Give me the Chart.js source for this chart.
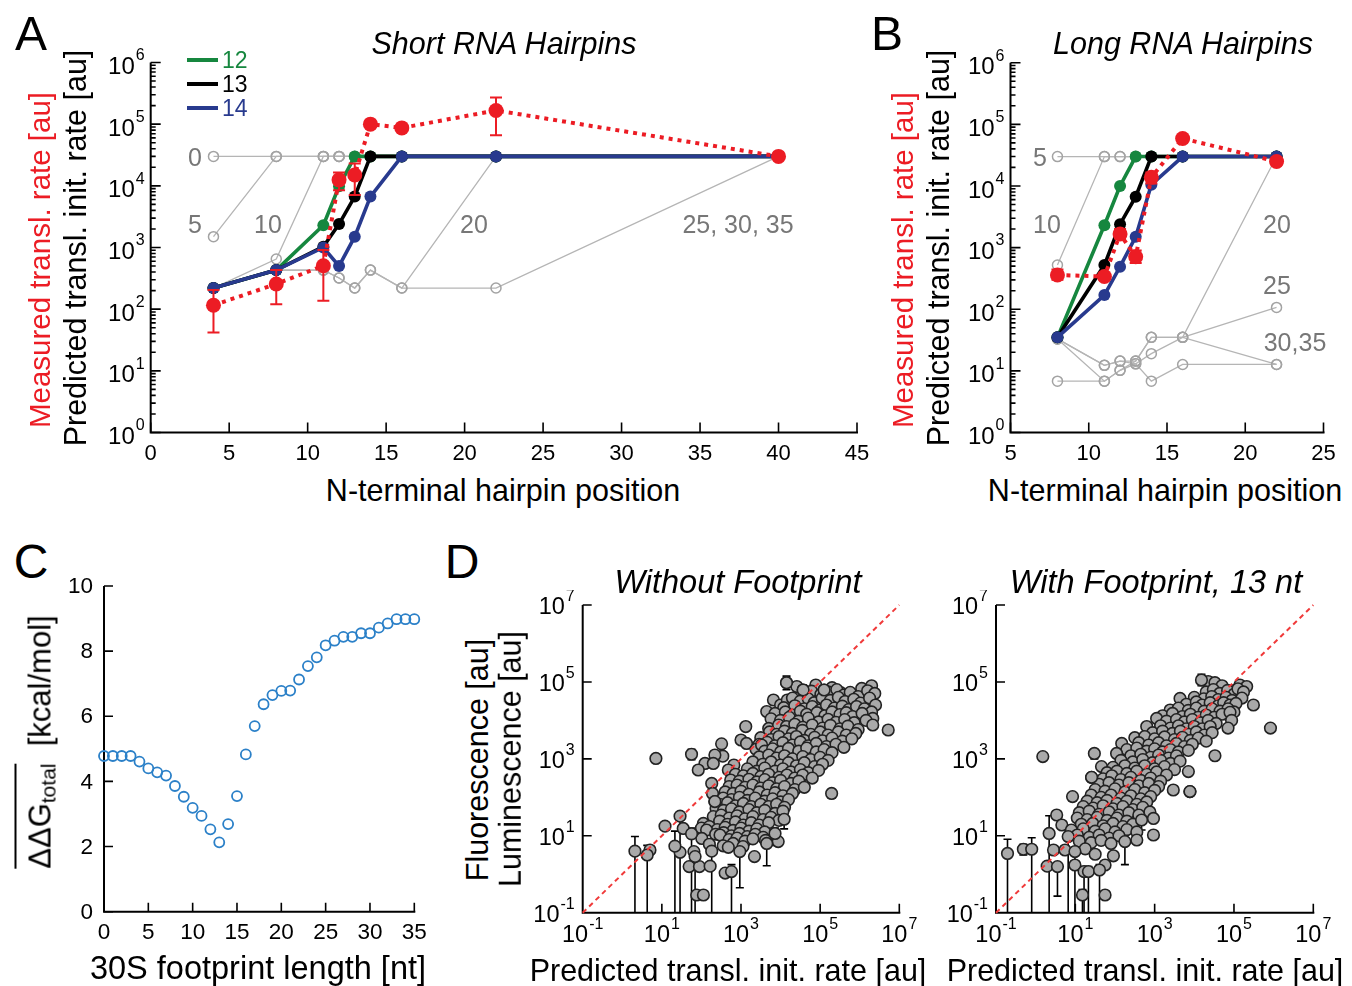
<!DOCTYPE html>
<html><head><meta charset="utf-8">
<script src="https://cdn.jsdelivr.net/npm/chart.js@4.4.1/dist/chart.umd.min.js"></script>
<style>
html,body{margin:0;padding:0;background:#fff;}
#wrap{position:relative;width:1352px;height:986px;overflow:hidden;font-family:"Liberation Sans",Arial,sans-serif;color:#000;}
canvas{position:absolute;}
.t{position:absolute;white-space:nowrap;line-height:1;}
.c{transform:translate(-50%,-50%);}
.r{transform:translate(-50%,-50%) rotate(-90deg);}
.g{color:#777;font-size:25px;}
.ttl{font-style:italic;font-size:30.5px;}
.ttl2{font-style:italic;font-size:32.5px;}
.ax{font-size:30.5px;}
.let{font-size:48px;}
.seg{position:absolute;height:4px;width:31px;left:187px;}
sub{font-size:21px;vertical-align:-0.25em;line-height:0;}
</style></head><body><div id="wrap">
<canvas id="cA" width="870" height="470" style="left:0;top:0"></canvas>
<canvas id="cB" width="482" height="470" style="left:870px;top:0"></canvas>
<canvas id="cC" width="380" height="390" style="left:60px;top:560px"></canvas>
<canvas id="cD1" width="400" height="365" style="left:520px;top:590px"></canvas>
<canvas id="cD2" width="417" height="365" style="left:935px;top:590px"></canvas>

<div class="t c let" style="left:31px;top:34px">A</div>
<div class="t c let" style="left:887px;top:34px">B</div>
<div class="t c let" style="left:31px;top:562px">C</div>
<div class="t c let" style="left:462px;top:562px">D</div>

<div class="t c ttl" style="left:504px;top:43px">Short RNA Hairpins</div>
<div class="t c ttl" style="left:1183px;top:43px">Long RNA Hairpins</div>
<div class="t c ttl2" style="left:738px;top:582px">Without Footprint</div>
<div class="t c ttl2" style="left:1156px;top:582px">With Footprint, 13 nt</div>

<div class="t c ax" style="left:503px;top:490px">N-terminal hairpin position</div>
<div class="t c ax" style="left:1165px;top:490px">N-terminal hairpin position</div>
<div class="t c ax" style="left:258px;top:968px;font-size:32.5px">30S footprint length [nt]</div>
<div class="t c ax" style="left:728px;top:970px">Predicted transl. init. rate [au]</div>
<div class="t c ax" style="left:1145px;top:970px">Predicted transl. init. rate [au]</div>

<div class="t r ax" style="left:40px;top:260px;color:#ec1c24;font-size:29.5px">Measured transl. rate [au]</div>
<div class="t r ax" style="left:75px;top:248px">Predicted transl. init. rate [au]</div>
<div class="t r ax" style="left:903px;top:260px;color:#ec1c24;font-size:29.5px">Measured transl. rate [au]</div>
<div class="t r ax" style="left:938px;top:248px">Predicted transl. init. rate [au]</div>
<div class="t r ax" style="left:477px;top:760px">Fluorescence [au]</div>
<div class="t r ax" style="left:510px;top:759px">Luminescence [au]</div>
<div class="t r ax" style="left:40px;top:742px;font-size:31px"><span style="border-top:2px solid #000;padding-top:6px">ΔΔG<sub>total</sub></span>&nbsp;&nbsp;[kcal/mol]</div>

<div class="seg" style="top:58px;background:#16873f"></div>
<div class="seg" style="top:82px;background:#000"></div>
<div class="seg" style="top:106px;background:#283a8e"></div>
<div class="t" style="left:222px;top:49px;font-size:23px;color:#16873f">12</div>
<div class="t" style="left:222px;top:73px;font-size:23px;color:#000">13</div>
<div class="t" style="left:222px;top:97px;font-size:23px;color:#283a8e">14</div>

<div class="t c g" style="left:195px;top:157px">0</div>
<div class="t c g" style="left:195px;top:224px">5</div>
<div class="t c g" style="left:268px;top:224px">10</div>
<div class="t c g" style="left:474px;top:224px">20</div>
<div class="t c g" style="left:738px;top:224px">25, 30, 35</div>
<div class="t c g" style="left:1040px;top:157px">5</div>
<div class="t c g" style="left:1047px;top:224px">10</div>
<div class="t c g" style="left:1277px;top:224px">20</div>
<div class="t c g" style="left:1277px;top:285px">25</div>
<div class="t c g" style="left:1295px;top:342px">30,35</div>
</div>
<script>
// ---------------- Panel A data (short hairpins) ----------------
const xA = [4, 8, 11, 12, 13, 14, 16, 22, 40];
const predA12 = [220, 430, 2300, 9800, 30000, 30000, 30000, 30000, 30000];
const predA13 = [220, 430, 1030, 2400, 6700, 30000, 30000, 30000, 30000];
const predA14 = [220, 430, 1000, 500, 1500, 6700, 30000, 30000, 30000];
const measA   = [116, 256, 505, 12500, 15000, 100000, 87000, 167000, 30000];
const measAlo = [42, 120, 137, 8500, 7100, null, null, 66000, null];
const measAhi = [204, 430, 910, 16500, 23000, null, null, 270000, null];
const grayA0  = [30000, 30000, 30000, 30000, 30000, 30000, 30000, 30000, 30000];
const grayA5  = [1500, 30000, 30000, 30000, 30000, 30000, 30000, 30000, 30000];
const grayA10 = [220, 650, 30000, 30000, 30000, 30000, 30000, 30000, 30000];
const grayA20 = [220, 430, 430, 320, 220, 430, 220, 30000, 30000];
const grayA25 = [220, 430, 430, 320, 220, 430, 220, 220, 30000];

// ---------------- Panel B data (long hairpins) ----------------
const xB = [8, 11, 12, 13, 14, 16, 22];
const predB12 = [35, 2300, 10000, 30000, 30000, 30000, 30000];
const predB13 = [35, 520, 2400, 6700, 30000, 30000, 30000];
const predB14 = [35, 170, 490, 1500, 10500, 30000, 30000];
const measB   = [360, 339, 1660, 710, 13800, 59000, 25000];
const measBlo = [300, 300, 1400, 560, 11000, 53000, 22000];
const measBhi = [440, 380, 2000, 900, 16500, 65000, 28000];
const grayB5  = [30000, 30000, 30000, 30000, 30000, 30000, 30000];
const grayB10 = [520, 30000, 30000, 30000, 30000, 30000, 30000];
const grayB20 = [33, 12.3, 14.4, 14.4, 35, 35, 30000];
const grayB25 = [33, 12.3, 14.4, 13, 19, 35, 107];
const grayB30 = [33, 6.8, 10.2, 13, 6.8, 12.7, 12.7];
const grayB35 = [6.8, 6.8, 10.2, 14.4, 35, 35, 12.7];

// ---------------- Panel C data ----------------
const cLen = [0,1,2,3,4,5,6,7,8,9,10,11,12,13,14,15,16,17,18,19,20,21,22,23,24,25,26,27,28,29,30,31,32,33,34,35];
const cDG  = [4.78,4.78,4.78,4.78,4.61,4.40,4.28,4.18,3.86,3.53,3.19,2.94,2.53,2.13,2.69,3.55,4.83,5.70,6.37,6.65,6.78,6.79,7.13,7.54,7.81,8.18,8.32,8.44,8.44,8.55,8.55,8.72,8.85,8.98,8.98,8.98];

// ---------------- Panel D data: [log10 predicted, log10 measured] ----------------
const dLeftPts = [
[4.15,4.98],[4.41,4.88],[4.57,4.79],[4.89,4.92],[5.10,4.79],[5.30,4.85],[5.52,4.72],[6.05,4.83],[6.30,4.90],
[4.62,4.70],[4.78,4.76],[5.02,4.68],[5.20,4.74],[5.42,4.80],[5.60,4.66],[5.76,4.73],[5.96,4.62],[6.20,4.77],[6.38,4.70],
[3.82,4.53],[4.00,4.40],[4.17,4.53],[4.30,4.58],[4.50,4.50],[4.70,4.56],[4.85,4.46],[5.05,4.58],[5.26,4.52],[5.46,4.60],[5.63,4.49],[5.85,4.55],[6.02,4.45],[6.25,4.58],[6.40,4.40],
[4.08,4.33],[4.36,4.38],[4.60,4.30],[4.80,4.36],[5.00,4.27],[5.16,4.40],[5.36,4.32],[5.56,4.37],[5.72,4.28],[5.92,4.36],[6.12,4.30],[6.30,4.22],
[3.65,4.23],[3.86,4.18],[4.12,4.22],[4.30,4.14],[4.50,4.24],[4.66,4.16],[4.92,4.20],[5.12,4.12],[5.30,4.22],[5.50,4.15],[5.66,4.20],[5.82,4.10],[6.06,4.18],[6.33,4.05],
[3.76,4.04],[4.00,4.00],[4.22,4.08],[4.45,3.98],[4.70,4.06],[4.96,3.96],[5.20,4.03],[5.40,3.95],[5.62,4.02],[5.86,3.94],[6.16,4.00],
[3.70,3.79],[3.95,3.88],[4.15,3.84],[4.36,3.90],[4.56,3.82],[4.80,3.88],[5.06,3.80],[5.26,3.87],[5.50,3.78],[5.70,3.85],[5.96,3.76],[6.33,3.88],
[3.12,3.84],[3.72,3.70],[3.90,3.64],[4.10,3.72],[4.30,3.66],[4.55,3.74],[4.76,3.64],[5.00,3.70],[5.20,3.62],[5.46,3.70],[5.66,3.62],[5.90,3.66],[6.72,3.75],
[3.50,3.55],[3.76,3.50],[3.96,3.58],[4.20,3.52],[4.40,3.58],[4.60,3.48],[4.86,3.56],[5.06,3.47],[5.30,3.54],[5.56,3.46],[5.80,3.52],
[3.00,3.49],[3.14,3.40],[3.46,3.38],[3.66,3.43],[3.86,3.34],[4.06,3.42],[4.30,3.36],[4.50,3.44],[4.70,3.34],[4.90,3.40],[5.16,3.32],[5.40,3.38],[5.60,3.30],
[3.38,3.25],[3.52,3.36],[3.60,3.20],[3.80,3.26],[4.00,3.18],[4.20,3.27],[4.46,3.20],[4.66,3.28],[4.90,3.18],[5.10,3.24],[5.30,3.16],
[2.54,3.07],[2.51,3.39],[2.34,3.10],[3.46,3.05],[3.70,3.10],[3.90,3.02],[4.10,3.08],[4.30,3.00],[4.56,3.06],[4.76,2.98],[5.00,3.04],[5.20,2.96],
[2.09,2.88],[2.30,2.88],[2.82,2.84],[3.30,2.92],[3.55,2.86],[3.76,2.92],[4.00,2.84],[4.20,2.90],[4.40,2.82],[4.60,2.90],[4.86,2.80],[5.06,2.86],
[1.92,2.71],[2.68,2.71],[3.16,2.74],[3.40,2.68],[3.60,2.76],[3.86,2.68],[4.06,2.74],[4.26,2.66],[4.50,2.72],[4.70,2.64],[4.96,2.70],
[2.86,2.60],[3.06,2.56],[3.30,2.62],[3.50,2.54],[3.70,2.60],[3.96,2.52],[4.16,2.58],[4.36,2.50],[4.56,2.58],[4.80,2.50],
[2.74,2.45],[2.96,2.42],[3.20,2.47],[3.40,2.40],[3.60,2.46],[3.80,2.38],[4.00,2.44],[4.26,2.36],[4.46,2.42],
[2.26,2.36],[2.70,2.28],[2.90,2.32],[3.10,2.26],[3.30,2.32],[3.50,2.24],[3.70,2.30],[3.90,2.22],[4.10,2.28],[4.36,2.20],[4.60,2.26],
[2.28,2.10],[2.60,2.14],[2.80,2.10],[3.00,2.16],[3.20,2.08],[3.46,2.14],[3.66,2.06],[3.86,2.12],[4.06,2.04],[4.30,2.10],
[2.34,1.89],[2.55,1.98],[2.76,1.94],[2.96,2.00],[3.16,1.92],[3.36,1.98],[3.60,1.90],[3.80,1.96],[4.00,1.88],[4.20,1.94],
[2.46,1.82],[2.66,1.86],[2.86,1.78],[3.06,1.84],[3.26,1.76],[3.50,1.82],[3.70,1.76],[3.90,1.82],[4.10,1.74],
[2.37,1.71],[2.56,1.66],[2.76,1.70],[2.96,1.62],[3.20,1.68],[3.40,1.60],[3.60,1.66],[3.86,1.58],[4.06,1.64],
[2.30,1.50],[2.50,1.54],[2.70,1.46],[2.90,1.52],[3.10,1.44],[3.30,1.50],[3.56,1.42],[3.76,1.48],[3.96,1.40],
[2.05,1.32],[2.46,1.38],[2.66,1.30],[2.86,1.36],[3.06,1.28],[3.26,1.34],[3.46,1.28],[3.70,1.34],
[1.08,1.25],[1.54,1.19],[2.00,1.20],[2.20,1.24],[2.40,1.16],[2.60,1.22],[2.80,1.14],[3.00,1.20],[3.20,1.12],[3.40,1.18],[3.60,1.10],
[2.13,1.15],[2.36,1.04],[2.56,1.08],[2.76,1.00],[2.96,1.06],[3.16,0.98],[3.36,1.04],[3.56,0.96],
[2.01,0.93],[2.47,1.02],[2.70,0.90],[2.90,0.94],[3.10,0.86],[3.30,0.92],[3.62,0.88],[3.94,0.85],
[2.20,0.78],[2.55,0.74],[2.80,0.80],[3.05,0.72],
[0.70,0.63],[1.81,0.59],[2.68,0.70],[1.46,0.57],[3.34,0.46],
[1.69,0.20],[1.95,0.20],[2.22,0.21],[2.60,0.03],[1.88,-0.54],[2.05,-0.54],
[0.85,3.01]
];
// [log pred, log meas, log low, log high]
const dLeftErr = [
[0.32,0.60,-1.2,0.98],[0.63,0.50,-1.2,0.75],[1.33,0.73,-1.2,1.12],[1.46,1.51,-1.2,1.62],[1.75,1.05,-1.2,1.20],
[1.84,0.46,-1.2,0.65],[2.26,0.60,-1.2,0.75],[2.76,0.07,-1.2,0.25],[2.97,0.59,-0.35,0.75],[3.65,0.80,0.22,1.00],
[3.86,1.06,0.75,1.20],[4.09,1.43,1.18,1.60],[1.75,3.12,2.98,3.25],[4.15,4.98,4.80,5.15],[4.57,4.79,4.50,4.92],
[5.29,2.10,1.98,2.20],[2.34,1.89,1.75,2.0],[5.10,4.79,4.62,4.90]
];
const dRightPts = [
[4.35,5.01],[4.52,4.98],[4.70,4.90],[5.03,4.79],[5.15,4.92],[5.32,4.88],
[4.30,4.74],[4.48,4.80],[4.64,4.70],[4.84,4.78],[5.00,4.68],[5.10,4.82],[5.24,4.74],
[3.64,4.57],[4.00,4.60],[4.24,4.56],[4.44,4.62],[4.60,4.54],[4.80,4.60],[4.95,4.52],[5.20,4.58],
[3.80,4.42],[4.05,4.48],[4.20,4.40],[4.40,4.46],[4.60,4.38],[4.74,4.46],[4.90,4.40],[5.05,4.44],[5.49,4.40],
[3.39,4.27],[3.60,4.32],[3.85,4.26],[4.05,4.32],[4.25,4.24],[4.45,4.30],[4.65,4.24],[4.85,4.30],[5.00,4.22],
[3.20,4.12],[3.45,4.18],[3.70,4.10],[3.90,4.16],[4.10,4.08],[4.30,4.14],[4.50,4.08],[4.70,4.16],[4.90,4.21],
[3.05,4.05],[3.30,3.98],[3.55,4.02],[3.75,3.96],[3.95,4.02],[4.15,3.94],[4.35,4.00],[4.55,3.92],[4.94,4.00],
[2.80,3.84],[3.15,3.86],[3.40,3.80],[3.60,3.86],[3.80,3.78],[4.00,3.84],[4.20,3.78],[4.40,3.84],[4.85,3.80],[5.92,3.80],
[2.95,3.68],[3.20,3.72],[3.45,3.66],[3.65,3.72],[3.85,3.64],[4.05,3.70],[4.25,3.62],[4.45,3.68],
[2.50,3.55],[2.75,3.58],[3.00,3.52],[3.25,3.57],[3.50,3.50],[3.70,3.56],[3.90,3.48],[4.10,3.54],[4.30,3.46],
[2.17,3.40],[2.60,3.42],[2.85,3.36],[3.10,3.42],[3.30,3.34],[3.55,3.40],[3.75,3.32],[3.95,3.38],
[2.30,3.24],[2.55,3.28],[2.80,3.20],[3.00,3.26],[3.20,3.18],[3.40,3.24],[3.60,3.18],[3.85,3.22],
[2.04,3.14],[2.40,3.08],[2.65,3.12],[2.90,3.04],[3.10,3.10],[3.35,3.02],[3.55,3.08],[4.52,3.08],
[2.15,2.96],[2.45,2.92],[2.70,2.98],[2.95,2.90],[3.15,2.96],[3.40,2.88],[3.64,2.94],
[1.66,2.80],[1.95,2.78],[2.25,2.82],[2.50,2.76],[2.75,2.82],[3.00,2.74],[3.25,2.80],[3.50,2.72],
[1.80,2.64],[2.05,2.68],[2.30,2.62],[2.55,2.68],[2.80,2.60],[3.05,2.66],[3.30,2.58],[3.85,2.67],
[1.41,2.52],[1.70,2.48],[1.92,2.56],[2.15,2.46],[2.40,2.52],[2.65,2.44],[2.90,2.50],[3.15,2.42],
[1.60,2.34],[1.85,2.38],[2.10,2.32],[2.35,2.38],[2.60,2.30],[2.85,2.36],[3.10,2.28],
[1.50,2.20],[1.75,2.16],[2.00,2.22],[2.25,2.14],[2.50,2.20],[2.75,2.12],[3.00,2.18],[3.47,2.19],[3.89,2.15],
[1.40,2.06],[1.65,2.00],[1.90,2.06],[2.15,1.98],[2.40,2.04],[2.65,1.96],[2.90,2.02],
[1.30,1.90],[1.55,1.86],[1.80,1.92],[2.05,1.84],[2.30,1.90],[2.55,1.82],[2.80,1.88],
[1.20,1.76],[1.45,1.72],[1.70,1.78],[1.95,1.70],[2.20,1.76],[2.45,1.68],[2.70,1.74],
[1.10,1.60],[1.35,1.64],[1.60,1.56],[1.85,1.62],[2.10,1.54],[2.35,1.60],[2.60,1.54],[2.88,1.62],
[0.53,1.54],[1.05,1.46],[1.30,1.42],[1.55,1.48],[1.80,1.40],[2.05,1.46],[2.30,1.38],[2.97,1.45],
[0.66,1.28],[1.15,1.30],[1.44,1.32],[1.70,1.26],[1.95,1.32],[2.20,1.24],[2.45,1.30],
[0.90,1.15],[1.20,1.18],[1.50,1.12],[1.75,1.18],[2.00,1.10],[2.30,1.16],[2.55,1.10],
[1.05,1.02],[1.35,0.96],[1.60,1.02],[1.85,0.94],[2.10,1.00],[2.97,1.02],
[1.10,0.86],[1.40,0.82],[1.65,0.88],[1.90,0.80],[2.55,0.89],
[0.45,0.63],[0.74,0.63],[1.25,0.66],[1.96,0.48],[1.50,0.52],
[0.29,0.21],[0.99,0.24],[1.75,0.24],[1.75,-0.54],
[0.18,3.06]
];
const dRightErr = [
[-0.71,0.54,-1.2,0.91],[-0.31,0.65,0.50,0.78],[-0.10,0.65,-1.2,0.95],[0.34,1.06,-1.2,1.52],[0.55,0.20,-0.57,0.30],
[1.22,0.07,-1.2,0.20],[1.33,0.07,-1.2,0.20],[1.61,0.11,-1.2,0.25],[2.25,0.85,0.25,1.00],[2.67,1.41,1.15,1.55],
[1.48,3.14,3.00,3.25],[4.18,5.05,4.90,5.20],[0.93,2.02,1.90,2.10],[1.18,-0.54,-1.2,-0.40],[0.99,0.59,-1.2,0.70],
[0.82,0.98,-1.2,1.10],[1.41,2.52,2.40,2.60],[3.89,2.15,2.05,2.25]
];

// ---------------- tick definitions ----------------
const ticksA = [0,5,10,15,20,25,30,35,40,45];
const ticksB = [5,10,15,20,25];
const ticksCx = [0,5,10,15,20,25,30,35];
const ticksCy = [0,2,4,6,8,10];
const decadesAB = [0,1,2,3,4,5,6];
const decadesD = [-1,1,3,5,7];

// ---------------- helpers ----------------
const FONT = '"Liberation Sans", Arial, sans-serif';
const RED = '#ec1c24', GREEN = '#16873f', BLUE = '#283a8e';
const pts = (xs, ys) => xs.map((x, i) => ({x, y: ys[i]}));
const errPts = (xs, ys, lo, hi) => xs.map((x, i) => ({x, y: ys[i], lo: lo[i], hi: hi[i]}));
const minorLog = (d0, d1) => { const r = []; for (let d = d0; d < d1; d++) for (let k = 2; k <= 9; k++) r.push(k * Math.pow(10, d)); return r; };

function powLabel(ctx, x, y, exp, align, bs, es) {
  ctx.font = bs + 'px ' + FONT;
  const wb = ctx.measureText('10').width;
  ctx.font = es + 'px ' + FONT;
  const we = ctx.measureText(exp).width;
  const tot = wb + we + 1;
  const sx = align === 'right' ? x - tot : x - tot / 2;
  ctx.textAlign = 'left'; ctx.textBaseline = 'middle';
  ctx.font = bs + 'px ' + FONT;
  ctx.fillText('10', sx, y);
  ctx.font = es + 'px ' + FONT;
  ctx.fillText(exp, sx + wb + 1, y - bs * 0.48);
}

function axesPlugin(o) {
  return {
    id: 'axesDraw',
    beforeDatasetsDraw(chart) {
      const {ctx, chartArea: a, scales} = chart;
      const xs = scales.x, ys = scales.y;
      ctx.save();
      ctx.strokeStyle = '#000'; ctx.lineWidth = 2;
      ctx.beginPath();
      ctx.moveTo(a.left, a.top); ctx.lineTo(a.left, a.bottom); ctx.lineTo(a.right + 1, a.bottom);
      ctx.stroke();
      ctx.lineWidth = 1.6;
      ctx.beginPath();
      (o.xMajor || []).forEach(v => { const p = xs.getPixelForValue(v); ctx.moveTo(p, a.bottom); ctx.lineTo(p, a.bottom - o.maj); });
      (o.xMinor || []).forEach(v => { const p = xs.getPixelForValue(v); ctx.moveTo(p, a.bottom); ctx.lineTo(p, a.bottom - o.min); });
      (o.yMajor || []).forEach(v => { const p = ys.getPixelForValue(v); ctx.moveTo(a.left, p); ctx.lineTo(a.left + o.maj, p); });
      (o.yMinor || []).forEach(v => { const p = ys.getPixelForValue(v); ctx.moveTo(a.left, p); ctx.lineTo(a.left + o.min, p); });
      ctx.stroke();
      ctx.fillStyle = '#000';
      (o.xLabels || []).forEach(l => {
        const p = xs.getPixelForValue(l.v);
        if (l.e !== undefined) powLabel(ctx, p, a.bottom + o.xOff, l.e, 'center', o.pbs, o.es);
        else { ctx.font = o.bs + 'px ' + FONT; ctx.textAlign = 'center'; ctx.textBaseline = 'middle'; ctx.fillText(l.t, p, a.bottom + o.xOff); }
      });
      (o.yLabels || []).forEach(l => {
        const p = ys.getPixelForValue(l.v) + o.yDy;
        if (l.e !== undefined) powLabel(ctx, a.left - o.yOff, p, l.e, 'right', o.pbs, o.es);
        else { ctx.font = o.bs + 'px ' + FONT; ctx.textAlign = 'right'; ctx.textBaseline = 'middle'; ctx.fillText(l.t, a.left - o.yOff, p); }
      });
      ctx.restore();
    }
  };
}

const errPlugin = {
  id: 'errbars',
  beforeDatasetDraw(chart, args) {
    const ds = chart.data.datasets[args.index];
    if (!ds.errColor) return;
    const {ctx, chartArea: a, scales: {x: xs, y: ys}} = chart;
    ctx.save();
    ctx.strokeStyle = ds.errColor; ctx.lineWidth = ds.errWidth || 1.5;
    ds.data.forEach(d => {
      if (d.lo == null) return;
      const px = xs.getPixelForValue(d.x);
      const rawLo = ys.getPixelForValue(d.lo);
      const y1 = Math.min(a.bottom, rawLo), y2 = ys.getPixelForValue(d.hi);
      const c = ds.errCap || 0;
      ctx.beginPath();
      ctx.moveTo(px, y1); ctx.lineTo(px, y2);
      if (c) {
        if (rawLo <= a.bottom) { ctx.moveTo(px - c, y1); ctx.lineTo(px + c, y1); }
        ctx.moveTo(px - c, y2); ctx.lineTo(px + c, y2);
      }
      ctx.stroke();
    });
    ctx.restore();
  }
};

function mk(id, datasets, xsc, ysc, pad, axes) {
  return new Chart(document.getElementById(id), {
    type: 'scatter',
    data: {datasets},
    options: {
      responsive: false, animation: false, events: [],
      layout: {padding: pad},
      scales: {x: Object.assign({display: false}, xsc), y: Object.assign({display: false}, ysc)},
      plugins: {legend: {display: false}, tooltip: {enabled: false}}
    },
    plugins: [axesPlugin(axes), errPlugin]
  });
}

function grayDs(xs, ys, order) {
  return {data: pts(xs, ys), showLine: true, borderColor: '#b5b5b5', borderWidth: 1.3, pointRadius: 5,
    pointBorderColor: '#a3a3a3', pointBackgroundColor: 'rgba(0,0,0,0)', pointBorderWidth: 1.5, clip: false, order};
}
function colDs(xs, ys, color, order) {
  return {data: pts(xs, ys), showLine: true, borderColor: color, borderWidth: 3.6, pointRadius: 6,
    pointBackgroundColor: color, pointBorderColor: color, pointBorderWidth: 0, clip: false, order};
}
function redDs(xs, ys, lo, hi, order) {
  return {data: errPts(xs, ys, lo, hi), showLine: true, borderColor: RED, borderWidth: 4, borderDash: [4, 5],
    borderCapStyle: 'butt', pointRadius: 7.5, pointBackgroundColor: RED, pointBorderColor: RED, pointBorderWidth: 0,
    errColor: RED, errWidth: 2, errCap: 6, clip: false, order};
}

const logAxisAB = {
  xOff: 21, yOff: 6, yDy: 5, bs: 22, pbs: 24, es: 16, maj: 10, min: 5,
  yMajor: decadesAB.map(e => Math.pow(10, e)), yMinor: minorLog(0, 6),
  yLabels: decadesAB.map(e => ({v: Math.pow(10, e), e: String(e)}))
};

// Panel A
mk('cA', [
  redDs(xA, measA, measAlo, measAhi, 0),
  colDs(xA, predA14, BLUE, 1),
  colDs(xA, predA13, '#000', 2),
  colDs(xA, predA12, GREEN, 3),
  grayDs(xA, grayA0, 4), grayDs(xA, grayA5, 5), grayDs(xA, grayA10, 6), grayDs(xA, grayA20, 7), grayDs(xA, grayA25, 8)
], {type: 'linear', min: 0, max: 45}, {type: 'logarithmic', min: 1, max: 1e6},
{left: 150.7, right: 13, top: 62.5, bottom: 37.5},
Object.assign({}, logAxisAB, {xMajor: ticksA, xLabels: ticksA.map(v => ({v, t: String(v)}))}));

// Panel B
mk('cB', [
  redDs(xB, measB, measBlo, measBhi, 0),
  colDs(xB, predB14, BLUE, 1),
  colDs(xB, predB13, '#000', 2),
  colDs(xB, predB12, GREEN, 3),
  grayDs(xB, grayB5, 4), grayDs(xB, grayB10, 5), grayDs(xB, grayB20, 6), grayDs(xB, grayB25, 7), grayDs(xB, grayB30, 8), grayDs(xB, grayB35, 9)
], {type: 'linear', min: 5, max: 25}, {type: 'logarithmic', min: 1, max: 1e6},
{left: 140.5, right: 28.5, top: 62.7, bottom: 37.5},
Object.assign({}, logAxisAB, {xMajor: ticksB, xLabels: ticksB.map(v => ({v, t: String(v)}))}));

// Panel C
mk('cC', [{
  data: pts(cLen, cDG), showLine: false, pointRadius: 5, pointBorderColor: '#2b80c8',
  pointBackgroundColor: 'rgba(0,0,0,0)', pointBorderWidth: 1.8, clip: false
}], {type: 'linear', min: 0, max: 35}, {type: 'linear', min: 0, max: 10},
{left: 44, right: 25.7, top: 26, bottom: 38.3},
{xOff: 21, yOff: 11, yDy: 1, bs: 22.5, pbs: 22, es: 15, maj: 9, min: 0,
 xMajor: ticksCx, yMajor: ticksCy,
 xLabels: ticksCx.map(v => ({v, t: String(v)})), yLabels: ticksCy.map(v => ({v, t: String(v)}))});

// Panel D
function dDatasets(p, e) {
  const all = p.map(q => ({x: Math.pow(10, q[0]), y: Math.pow(10, q[1])}))
    .concat(e.map(q => ({x: Math.pow(10, q[0]), y: Math.pow(10, q[1]), lo: Math.pow(10, q[2]), hi: Math.pow(10, q[3])})));
  return [
    {data: [{x: 0.1, y: 0.1}, {x: 1e7, y: 1e7}], showLine: true, borderColor: '#f03a3a', borderWidth: 2,
     borderDash: [5, 4], pointRadius: 0, clip: false, order: 0},
    {data: all, showLine: false, pointRadius: 5.8, pointBackgroundColor: '#a9a9a9', pointBorderColor: '#222',
     pointBorderWidth: 1.6, errColor: '#000', errWidth: 1.6, errCap: 4, clip: false, order: 1}
  ];
}
const dAxis = {
  xOff: 23, yOff: 8, yDy: 3, bs: 22, pbs: 23.5, es: 16, maj: 9, min: 0,
  xMajor: [10, 1e3, 1e5, 1e7], yMajor: [10, 1e3, 1e5, 1e7],
  xLabels: decadesD.map(e => ({v: Math.pow(10, e), e: String(e)})),
  yLabels: decadesD.map(e => ({v: Math.pow(10, e), e: String(e)}))
};
mk('cD1', dDatasets(dLeftPts, dLeftErr), {type: 'logarithmic', min: 0.1, max: 1e7}, {type: 'logarithmic', min: 0.1, max: 1e7},
  {left: 62.7, right: 20.7, top: 15, bottom: 42.3}, dAxis);
mk('cD2', dDatasets(dRightPts, dRightErr), {type: 'logarithmic', min: 0.1, max: 1e7}, {type: 'logarithmic', min: 0.1, max: 1e7},
  {left: 61, right: 38.7, top: 15, bottom: 42.3}, dAxis);
</script>
</body></html>
